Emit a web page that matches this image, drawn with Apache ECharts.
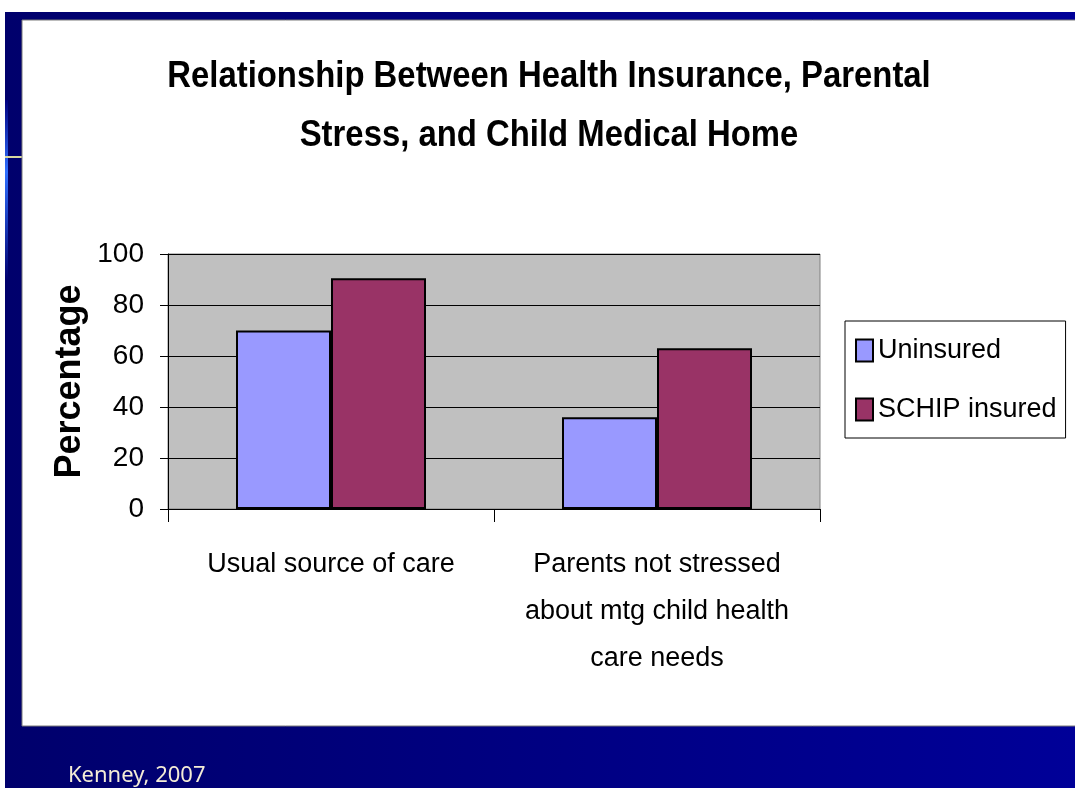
<!DOCTYPE html>
<html>
<head>
<meta charset="utf-8">
<script src="https://cdn.jsdelivr.net/npm/echarts@6/dist/echarts.min.js"></script>
<style>
html,body{margin:0;padding:0;background:#fff;}
#c{width:1075px;height:788px;}
</style>
</head>
<body>
<div id="c"></div>
<script>
const categories = ['Usual source of care', 'Parents not stressed\nabout mtg child health\ncare needs'];
const uninsured = [70, 36];
const schipInsured = [90.5, 63];
const yTicks = { min: 0, max: 100, interval: 20 };
const titleLines = ['Relationship Between Health Insurance, Parental', 'Stress, and Child Medical Home'];
const yName = 'Percentage';
const seriesNames = ['Uninsured', 'SCHIP insured'];
const footer = 'Kenney, 2007';

const SANS = '"Liberation Sans", Arial, sans-serif';
const chart = echarts.init(document.getElementById('c'));
chart.setOption({
  animation: false,
  backgroundColor: '#ffffff',
  graphic: [
    { type: 'rect', z: -100, shape: { x: 5, y: 12, width: 1070, height: 776 },
      style: { fill: new echarts.graphic.LinearGradient(0, 0, 1, 0, [{ offset: 0, color: '#00006c' }, { offset: 1, color: '#000098' }]) } },
    { type: 'rect', z: -99, shape: { x: 5, y: 100, width: 3, height: 180 },
      style: { fill: new echarts.graphic.LinearGradient(0, 0, 0, 1, [{ offset: 0, color: '#000080' }, { offset: 0.4, color: '#2f6fff' }, { offset: 1, color: '#000070' }]) } },
    { type: 'rect', z: -98, shape: { x: 5, y: 156, width: 17, height: 2 }, style: { fill: '#d8d8a0' } },
    { type: 'rect', z: -97, shape: { x: 22, y: 20, width: 1060, height: 706 },
      style: { fill: '#ffffff', stroke: '#7a7a7a', lineWidth: 1 } },
    { type: 'text', z: 10, x: 549, y: 77, scaleX: 0.913,
      style: { text: titleLines[0], fill: '#000', font: 'bold 36px ' + SANS, textAlign: 'center', textVerticalAlign: 'middle' } },
    { type: 'text', z: 10, x: 549, y: 136, scaleX: 0.913,
      style: { text: titleLines[1], fill: '#000', font: 'bold 36px ' + SANS, textAlign: 'center', textVerticalAlign: 'middle' } },
    { type: 'text', z: 10, x: 68, y: 787,
      style: { text: footer, fill: '#f4ecd6', font: '22px "Noto Sans", "DejaVu Sans", sans-serif', textVerticalAlign: 'bottom' } }
  ],
  legend: {
    orient: 'vertical',
    left: 845, top: 321,
    padding: [16, 9, 15, 10],
    itemGap: 32,
    itemWidth: 17, itemHeight: 22,
    itemTextGap: 9,
    icon: 'rect',
    borderColor: '#000', borderWidth: 1,
    backgroundColor: '#fff',
    itemStyle: { borderColor: '#000', borderWidth: 2 },
    textStyle: { fontFamily: SANS, fontSize: 27, color: '#000' },
    data: seriesNames
  },
  grid: {
    left: 168, top: 254, right: 255, bottom: 279,
    show: true, backgroundColor: '#c0c0c0', borderColor: '#808080', borderWidth: 1,
    containLabel: false
  },
  xAxis: {
    type: 'category',
    data: categories,
    boundaryGap: true,
    axisLine: { lineStyle: { color: '#000', width: 1 } },
    axisTick: { show: true, length: 13, lineStyle: { color: '#000' } },
    axisLabel: { fontFamily: SANS, fontSize: 27, lineHeight: 47, color: '#000', margin: 32, interval: 0 },
    splitLine: { show: false }
  },
  yAxis: {
    type: 'value',
    min: yTicks.min, max: yTicks.max, interval: yTicks.interval,
    name: yName,
    nameLocation: 'middle',
    nameRotate: 90,
    nameGap: 80,
    nameMoveOverlap: false,
    nameTextStyle: { fontFamily: SANS, fontWeight: 'bold', fontSize: 36, color: '#000' },
    axisLine: { show: true, lineStyle: { color: '#000', width: 1 } },
    axisTick: { show: true, length: 8, lineStyle: { color: '#000' } },
    axisLabel: { fontFamily: SANS, fontSize: 28, color: '#000', margin: 24 },
    splitLine: { show: true, lineStyle: { color: '#000', width: 1 } }
  },
  series: [
    { name: seriesNames[0], type: 'bar', data: uninsured, barWidth: 95, barGap: '0%',
      itemStyle: { color: '#9999ff', borderColor: '#000', borderWidth: 2 } },
    { name: seriesNames[1], type: 'bar', data: schipInsured, barWidth: 95, barGap: '0%',
      itemStyle: { color: '#993366', borderColor: '#000', borderWidth: 2 } }
  ]
});
</script>
</body>
</html>
